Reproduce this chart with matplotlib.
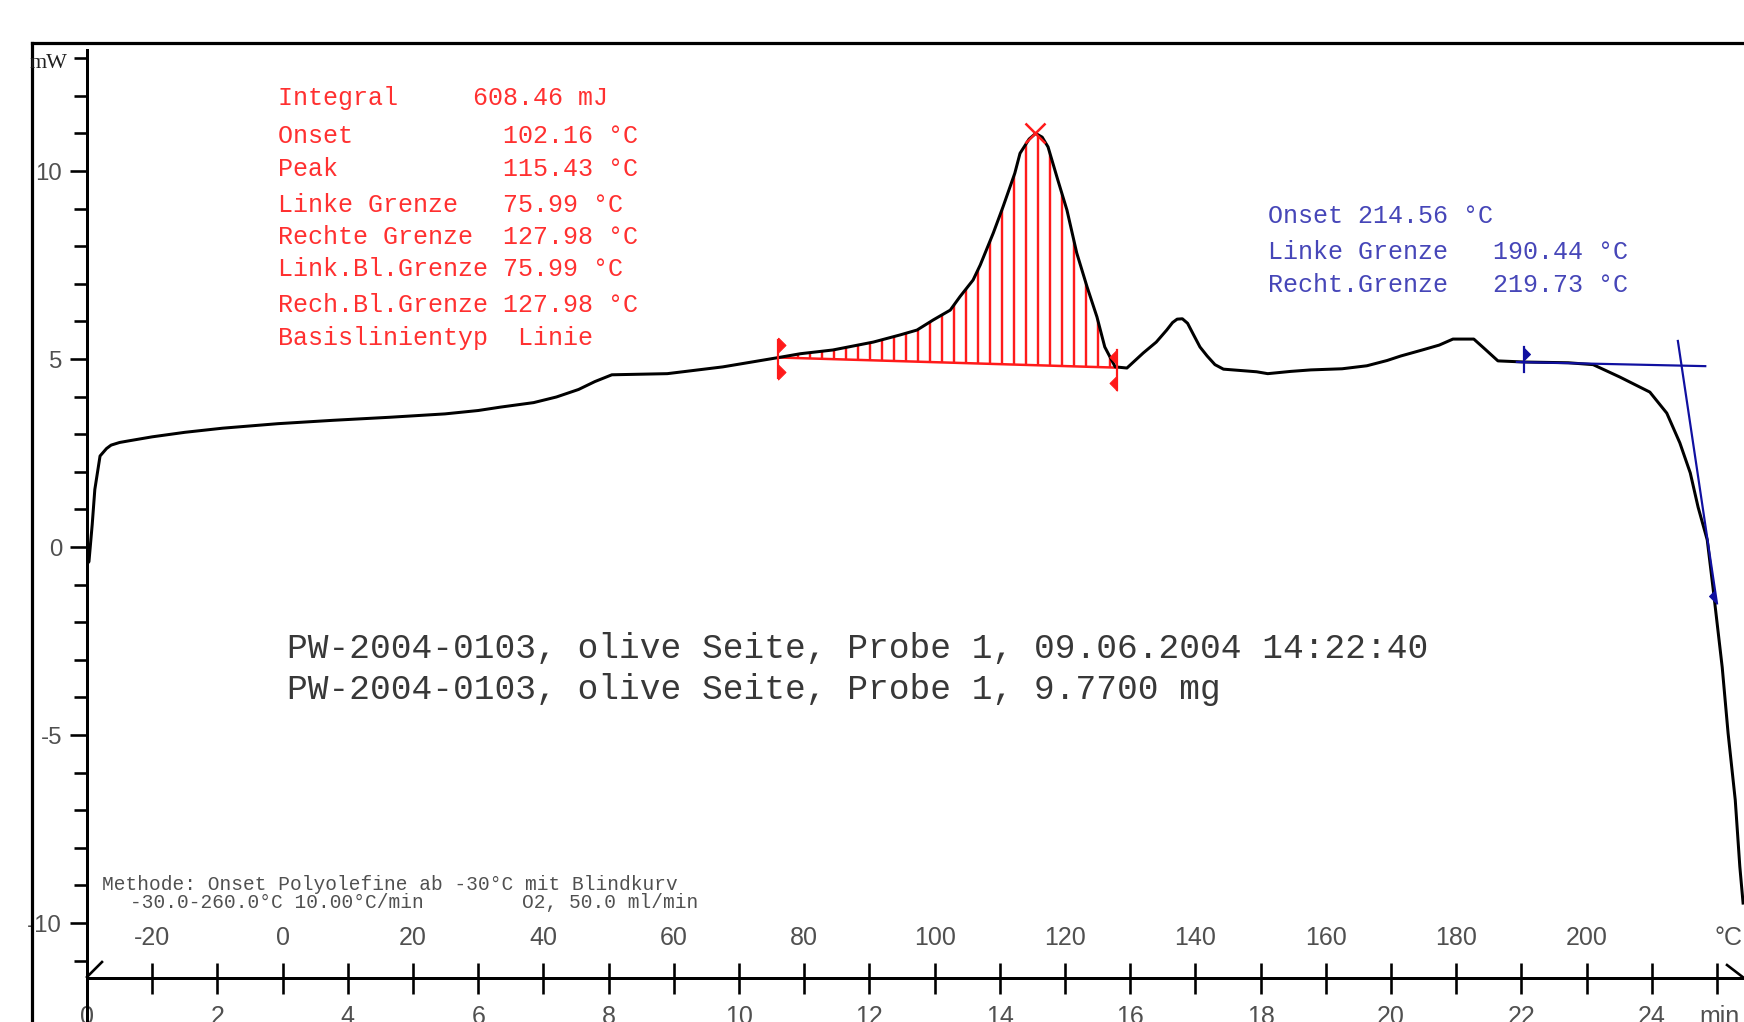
import numpy as np
import matplotlib
matplotlib.use("Agg")
import matplotlib.pyplot as plt
from matplotlib.lines import Line2D

# ---------------- data ----------------
time_min = [0.00, 0.03, 0.08, 0.12, 0.20, 0.30, 0.37, 0.50, 0.63, 1.00, 1.50, 2.08,
            2.93, 3.78, 4.64, 5.49, 6.00, 6.34, 6.85, 7.20, 7.54, 7.79, 8.05, 8.90,
            9.75, 10.61, 10.94, 11.44, 12.06, 12.47, 12.73, 12.98, 13.24, 13.39, 13.59,
            13.70, 13.90, 14.05, 14.23, 14.31, 14.45, 14.55, 14.65, 14.74, 14.89, 15.03,
            15.18, 15.34, 15.49, 15.61, 15.77, 15.95, 16.20, 16.40, 16.56, 16.65, 16.72,
            16.80, 16.88, 16.97, 17.07, 17.18, 17.30, 17.43, 17.94, 18.11, 18.46, 18.77,
            19.25, 19.63, 19.94, 20.15, 20.48, 20.74, 20.95, 21.27, 21.45, 21.64, 22.04,
            22.72, 23.10, 23.51, 23.97, 24.23, 24.43, 24.59, 24.71, 24.85, 24.94, 25.08,
            25.17, 25.28, 25.35, 25.40]
heat_flow_mw = [-0.45, -0.39, 0.60, 1.53, 2.42, 2.62, 2.71, 2.78, 2.82, 2.93, 3.05, 3.16,
                3.28, 3.37, 3.45, 3.54, 3.63, 3.72, 3.84, 3.99, 4.19, 4.40, 4.58, 4.61,
                4.79, 5.04, 5.14, 5.24, 5.45, 5.64, 5.77, 6.04, 6.30, 6.66, 7.10,
                7.50, 8.35, 9.05, 9.94, 10.47, 10.85, 11.00, 10.90, 10.64, 9.76, 8.96,
                7.82, 6.91, 6.12, 5.32, 4.79, 4.76, 5.16, 5.45, 5.77, 5.97, 6.06,
                6.07, 5.95, 5.65, 5.32, 5.08, 4.85, 4.73, 4.66, 4.61, 4.67, 4.71,
                4.74, 4.82, 4.96, 5.08, 5.24, 5.37, 5.53, 5.53, 5.25, 4.95, 4.92,
                4.90, 4.85, 4.52, 4.12, 3.56, 2.77, 1.97, 1.06, 0.19, -1.10, -3.20,
                -4.95, -6.73, -8.50, -9.47]

start_temp_c = -30.0
heating_rate = 10.0  # degC / min

temp_tick_values = [-20, 0, 20, 40, 60, 80, 100, 120, 140, 160, 180, 200]
minute_tick_values = [0, 2, 4, 6, 8, 10, 12, 14, 16, 18, 20, 22, 24]
all_minute_ticks = list(range(0, 26))
y_major_ticks = [-10, -5, 0, 5, 10]
y_minor_ticks = list(range(-11, 14))

# peak evaluation (red)
peak_left_c = 75.99
peak_right_c = 127.98
peak_c = 115.43
peak_mw = 11.02
peak_baseline_mw = [5.04, 4.77]

# onset evaluation (blue)
onset_left_c = 190.44
onset_right_c = 219.73
blue_baseline_t = [21.93, 24.82]
blue_baseline_mw = [4.92, 4.81]
blue_tangent_t = [24.40, 25.00]
blue_tangent_mw = [5.48, -1.50]

red_lines = ["Integral     608.46 mJ",
             "Onset          102.16 °C",
             "Peak           115.43 °C",
             "Linke Grenze   75.99 °C",
             "Rechte Grenze  127.98 °C",
             "Link.Bl.Grenze 75.99 °C",
             "Rech.Bl.Grenze 127.98 °C",
             "Basislinientyp  Linie"]
blue_lines = ["Onset 214.56 °C",
              "Linke Grenze   190.44 °C",
              "Recht.Grenze   219.73 °C"]
sample_lines = ["PW-2004-0103, olive Seite, Probe 1, 09.06.2004 14:22:40",
                "PW-2004-0103, olive Seite, Probe 1, 9.7700 mg"]
method_line1 = "Methode: Onset Polyolefine ab -30°C mit Blindkurv"
method_line2a = "-30.0-260.0°C 10.00°C/min"
method_line2b = "O2, 50.0 ml/min"

# ---------------- layout ----------------
W, H = 1744, 1022
DPI = 72
plt.rcParams["hatch.linewidth"] = 2.4
plt.rcParams["hatch.color"] = "#ff1a1a"

fig = plt.figure(figsize=(W / DPI, H / DPI), dpi=DPI)

def fx(px):
    return px / W

def fy(py):
    return 1 - py / H

ax_left, ax_right, ax_top, ax_bottom = 87, 1744, 43, 978
ax = fig.add_axes([fx(ax_left), fy(ax_bottom), fx(ax_right - ax_left), (ax_bottom - ax_top) / H])
px_per_min = 65.2
px_per_mw = 37.6
y0_px = 547
ax.set_xlim(0, (ax_right - ax_left) / px_per_min)
ax.set_ylim(-(ax_bottom - y0_px) / px_per_mw, (y0_px - ax_top) / px_per_mw)

def y_of_px(py):
    return (y0_px - py) / px_per_mw

def t_of_temp(c):
    return (c - start_temp_c) / heating_rate

for s in ["top", "right", "left"]:
    ax.spines[s].set_visible(False)
ax.spines["bottom"].set_linewidth(3)

# y ticks
ax.set_yticks(y_major_ticks)
ax.set_yticks(y_minor_ticks, minor=True)
ax.set_yticklabels([str(v) for v in y_major_ticks])
ax.tick_params(axis="y", which="major", direction="out", length=17, width=2.6,
               pad=8, labelsize=24, labelcolor="#505050", color="black")
ax.tick_params(axis="y", which="minor", direction="out", length=13, width=2.6, color="black")
for lab in ax.get_yticklabels():
    lab.set_family("Liberation Sans")

# x ticks (minutes, every minute)
ax.set_xticks(all_minute_ticks)
ax.set_xticklabels([])
ax.tick_params(axis="x", which="major", direction="inout", length=31, width=2.6, color="black")

# ---------------- curve & evaluations ----------------
t = np.array(time_min)
mw = np.array(heat_flow_mw)

tl, tr = t_of_temp(peak_left_c), t_of_temp(peak_right_c)
base_line = np.interp(t, [tl, tr], peak_baseline_mw)
mask = (t >= tl - 0.02) & (t <= tr + 0.02)
ax.fill_between(t, base_line, mw, where=mask, facecolor="none", edgecolor="#ff1a1a",
                linewidth=0, hatch="|", zorder=2)
ax.plot([tl, tr], peak_baseline_mw, color="#ff1a1a", lw=2.5, zorder=2)

ax.plot(t, mw, color="black", lw=3.0, zorder=3, solid_joinstyle="round")

flag_right = [(0, 1), (1, 0), (0, -1), (0, 1)]
flag_left = [(0, 1), (-1, 0), (0, -1), (0, 1)]

# red limit markers
ax.plot([tl, tl], [4.50, 5.50], color="#ff1a1a", lw=2.2, zorder=4)
ax.plot([tl, tl], [5.37, 4.66], ls="none", marker=flag_right, ms=15, color="#ff1a1a", zorder=4)
ax.plot([tr, tr], [4.18, 5.24], color="#ff1a1a", lw=2.2, zorder=4)
ax.plot([tr, tr], [5.06, 4.36], ls="none", marker=flag_left, ms=15, color="#ff1a1a", zorder=4)
ax.plot([t_of_temp(peak_c)], [peak_mw], ls="none", marker="x", ms=20, mew=2.5,
        color="#ff1a1a", zorder=4)

# blue onset construction
navy = "#1010a0"
ax.plot(blue_baseline_t, blue_baseline_mw, color=navy, lw=2.2, zorder=4)
ax.plot(blue_tangent_t, blue_tangent_mw, color=navy, lw=2.2, zorder=4)
tbl = t_of_temp(onset_left_c)
tbr = t_of_temp(onset_right_c)
ax.plot([tbl, tbl], [4.65, 5.32], color=navy, lw=2.2, zorder=4)
ax.plot([tbl], [5.14], ls="none", marker=flag_right, ms=12, color=navy, zorder=4)
ax.plot([tbr], [-1.30], ls="none", marker=flag_left, ms=12, color=navy, zorder=4)

# ---------------- axis decorations ----------------
fig.add_artist(Line2D([fx(32), 1], [fy(43), fy(43)], color="black", lw=3.2))
fig.add_artist(Line2D([fx(32), fx(32)], [fy(43), 0], color="black", lw=3.2))
fig.add_artist(Line2D([fx(87), fx(87)], [fy(50), 0], color="black", lw=3.0))
fig.add_artist(Line2D([fx(87), fx(102)], [fy(977), fy(962)], color="black", lw=2.6))
fig.add_artist(Line2D([fx(1727), fx(1744)], [fy(965), fy(978)], color="black", lw=2.6))

label_gray = "#505050"
for c in temp_tick_values:
    ax.text(t_of_temp(c), y_of_px(938), str(c), ha="center", va="center", fontsize=25,
            family="Liberation Sans", color=label_gray, clip_on=False)
ax.text(24.96, y_of_px(938), "°C", ha="left", va="center", fontsize=25,
        family="Liberation Sans", color=label_gray, clip_on=False)
for m in minute_tick_values:
    ax.text(m, y_of_px(1017), str(m), ha="center", va="center", fontsize=25,
            family="Liberation Sans", color=label_gray, clip_on=False)
ax.text(25.03, y_of_px(1017), "min", ha="center", va="center", fontsize=25,
        family="Liberation Sans", color=label_gray, clip_on=False)

fig.text(fx(30), fy(64), "mW", ha="left", va="center", fontsize=22,
         family="Liberation Serif", color="#202020")

# ---------------- annotations ----------------
red_y = [98, 136, 169, 205, 237, 269, 305, 338]
for yy, s in zip(red_y, red_lines):
    fig.text(fx(278), fy(yy), s, ha="left", va="center", fontsize=25,
             family="Liberation Mono", color="#ff3030")

blue_y = [216, 252, 285]
for yy, s in zip(blue_y, blue_lines):
    fig.text(fx(1268), fy(yy), s, ha="left", va="center", fontsize=25,
             family="Liberation Mono", color="#4646b8")

for yy, s in zip([649, 690], sample_lines):
    fig.text(fx(287), fy(yy), s, ha="left", va="center", fontsize=34.5,
             family="Liberation Mono", color="#383838")

fig.text(fx(102), fy(885), method_line1, ha="left", va="center", fontsize=19.5,
         family="Liberation Mono", color="#505050")
fig.text(fx(130), fy(903), method_line2a, ha="left", va="center", fontsize=19.5,
         family="Liberation Mono", color="#505050")
fig.text(fx(522), fy(903), method_line2b, ha="left", va="center", fontsize=19.5,
         family="Liberation Mono", color="#505050")

fig.savefig("out.png", dpi=DPI, facecolor="white")
